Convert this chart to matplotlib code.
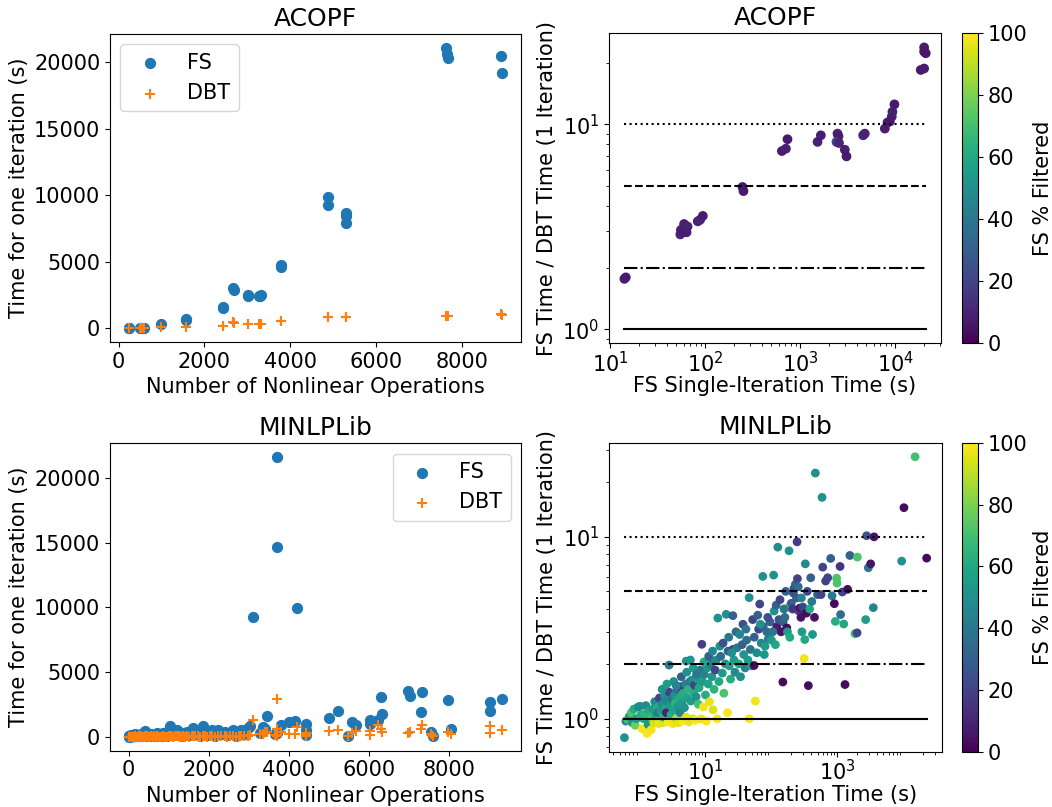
import matplotlib
matplotlib.use("Agg")
import matplotlib.pyplot as plt

# ACOPF: nonlinear operation counts and per-iteration times (s)
acopf_ops = [233, 240, 488, 520, 565, 600, 993, 1558, 1570, 2426, 2440, 2674, 2680, 3008, 3020,
             3263, 3290, 3310, 3783, 3790, 4876, 4880, 5302, 5305, 5310, 7644, 7650, 7690, 8923, 8950]
acopf_fs_iter = [10, 15, 20, 25, 20, 40, 280, 700, 620, 1580, 1480, 2990, 2900, 2490, 2440,
                 2440, 2380, 2490, 4750, 4580, 9900, 9250, 8700, 8470, 7900, 21090, 20640, 20340, 20460, 19210]
acopf_dbt_iter = [8, 10, 15, 18, 15, 20, 80, 80, 100, 175, 170, 430, 420, 280, 280,
                  280, 290, 280, 530, 510, 830, 800, 850, 840, 830, 930, 900, 880, 1080, 1020]

# ACOPF: FS single-iteration time vs speed ratio, coloured by % filtered
acopf_time = [14.2, 14.7, 55, 55.8, 60.3, 65.6, 64, 58, 84, 89, 95, 248, 254, 644, 710, 738, 1528, 1656,
              2477, 2540, 2416, 2570, 2958, 3080, 4610, 4800, 7800, 8320, 8790, 9230, 9370, 9840,
              18600, 20200, 20200, 20200, 21000]
acopf_ratio = [1.76, 1.79, 2.9, 3.05, 3.26, 3.17, 2.97, 2.97, 3.36, 3.42, 3.57, 4.94, 4.72, 7.4, 7.6, 8.45, 8.2, 8.83,
               9.0, 8.73, 8.2, 8.1, 7.51, 6.97, 8.83, 9.0, 9.52, 10.2, 10.3, 10.9, 11.5, 12.5,
               18.4, 18.7, 23.7, 22.6, 22.2]
acopf_pct = [8, 8, 10, 9, 8, 10, 9, 8, 9, 10, 8, 6, 7, 8, 9, 7, 9, 8,
             9, 8, 20, 10, 8, 7, 12, 10, 8, 7, 6, 8, 9, 7,
             7, 8, 8, 7, 6]

# MINLPLib: nonlinear operation counts and per-iteration times (s)
minlp_ops = [5, 10, 15, 22, 30, 38, 45, 55, 65, 75, 85, 95, 110, 125, 140, 155, 170, 190, 210, 230,
             250, 270, 290, 315, 340, 365, 390, 410, 440, 470, 500, 530, 560, 600, 640, 680, 720, 760, 800, 850,
             900, 950, 1000, 1031, 1060, 1100, 1150, 1197, 1250, 1300, 1350, 1400, 1460, 1520, 1580, 1610, 1660,
             1720, 1780, 1858, 1900, 1960, 2020, 2080, 2150, 2231, 2300, 2396, 2450, 2520, 2611, 2680, 2750,
             2811, 2880, 2976,
             3019, 3101, 3267, 3350, 3391, 3441, 3650, 3697, 3697, 3697, 3814, 4012, 4161, 4194, 4427, 4427,
             4427, 4989, 5222, 5462, 5562, 5670, 6018, 6018, 6216, 6298, 6331, 6977, 7019, 7292, 7309, 7533,
             7598, 7971, 8030, 9024, 9024, 9322]
minlp_fs_iter = [20, 40, 10, 60, 30, 80, 15, 50, 120, 25, 70, 40, 150, 30, 90, 60, 200, 40, 110, 70,
                 160, 30, 90, 240, 50, 130, 80, 410, 60, 180, 100, 40, 220, 90, 150, 60, 260, 120, 50, 300,
                 150, 90, 500, 796, 250, 120, 350, 540, 200, 80, 280, 150, 400, 120, 250, 670, 180,
                 450, 90, 796, 300, 150, 220, 500, 80, 540, 200, 400, 120, 300, 540, 90, 350,
                 540, 200, 670,
                 850, 9274, 300, 750, 595, 1569, 200, 21615, 14706, 300, 873, 1105, 1236, 9992, 1005, 541,
                 155, 1414, 1955, 77, 1136, 927, 1260, 981, 1260, 3037, 1777, 3555, 3115, 1932, 3455, 330,
                 77, 2805, 595, 2650, 1986, 2914]
minlp_dbt_iter = [5, 8, 3, 10, 6, 12, 4, 9, 15, 5, 11, 7, 18, 6, 14, 9, 22, 7, 16, 10,
                  20, 6, 13, 25, 8, 17, 11, 30, 9, 21, 14, 7, 26, 12, 19, 8, 28, 15, 7, 32,
                  18, 12, 40, 45, 25, 15, 38, 42, 22, 10, 30, 18, 40, 14, 28, 50, 20,
                  45, 12, 60, 35, 18, 25, 55, 10, 60, 25, 45, 15, 35, 60, 12, 40,
                  60, 25, 70,
                  150, 1314, 200, 200, 400, 350, 150, 2883, 595, 77, 350, 250, 250, 750, 150, 60,
                  300, 450, 500, 60, 300, 450, 450, 130, 900, 600, 400, 300, 400, 600, 900, 250,
                  50, 400, 200, 850, 300, 500]

# MINLPLib: FS single-iteration time vs speed ratio, coloured by % filtered
minlp_time = [0.59, 0.62, 0.66, 0.70, 0.75, 0.78, 0.82, 0.86, 0.90, 0.95,
              1.02, 1.05, 1.10, 1.15, 1.20, 1.25, 1.30, 1.35, 1.40, 1.45,
              1.50, 1.55, 1.60, 1.65, 1.70, 1.75, 1.80, 1.85, 1.90, 1.95,
              2.00, 2.10, 2.20, 2.25, 2.30, 2.40, 2.50, 2.55, 2.60, 2.70, 2.80, 2.81,
              2.90, 3.00, 3.10, 3.20, 3.30, 3.40, 3.50, 3.60, 3.70, 3.80, 3.90,
              4.00, 4.10, 4.20, 4.40, 4.50, 4.60, 4.80, 5.00, 5.10, 5.10, 5.30, 5.50,
              5.60, 5.80, 5.90, 6.00, 6.20, 6.40, 6.60, 6.80, 7.00, 7.20, 7.50, 7.80,
              8.0, 8.3, 8.6, 8.8, 9.0, 9.3, 9.6, 10.0, 10.3, 10.6, 11.0,
              11.5, 12.0, 12.5, 13.0, 13.5, 14.0, 14.5, 15.0, 15.4, 16.0,
              17, 18, 19, 20, 20.6, 21.6, 22, 23, 24, 26, 26, 27, 28,
              30, 32, 34, 36, 38, 40, 42, 44, 46, 46, 48, 50,
              54.6, 55, 57, 60, 64, 66.5, 70, 74, 75, 80, 85, 90, 95, 100, 108,
              110, 115, 120, 125, 130, 140, 149, 150, 160, 171, 175, 183, 185, 190,
              200, 210, 220, 231, 240, 245, 248, 260, 270, 280, 290, 300, 313, 320, 327, 340, 363,
              380, 395, 420, 450, 464, 500, 566, 586, 600, 665, 714, 792, 830, 900, 933, 974, 990,
              1100, 1120, 1190, 1250, 1306, 1430, 1550, 1850, 1990, 2010,
              2690, 2780, 2950, 3200, 3510, 3600, 9440, 10230, 15100, 22600,
              2.2, 2.6, 3.3, 3.6, 4.3, 5.2, 6.5, 7.3, 9.5, 11.2, 12.8, 16.5,
              18.5, 22.5, 25, 29, 33, 37, 41, 52, 62, 68, 78, 88,
              105, 118, 135, 155, 165, 215, 255, 285, 350, 410]
minlp_ratio = [0.787, 0.97, 0.99, 1.03, 1.08, 0.95, 1.13, 0.92, 1.00, 1.16,
               1.17, 1.05, 0.88, 1.00, 1.06, 1.18, 0.83, 0.93, 1.10, 1.03,
               0.87, 1.00, 1.13, 0.95, 1.24, 1.05, 0.96, 1.15, 1.08, 0.94,
               1.30, 1.10, 1.20, 0.95, 1.02, 1.33, 1.15, 1.08, 1.25, 0.96, 1.40, 1.97,
               1.18, 1.05, 1.28, 0.94, 1.12, 1.35, 1.22, 1.00, 1.45, 1.17, 0.95,
               1.30, 1.08, 1.50, 1.22, 0.97, 1.38, 1.15, 1.55, 2.07, 1.02, 1.30, 1.45,
               0.96, 1.60, 2.10, 1.25, 1.63, 1.00, 1.40, 1.53, 0.98, 1.32, 1.65, 1.20,
               1.48, 1.85, 1.00, 2.56, 1.60, 1.16, 1.75, 1.35, 0.97, 1.90, 1.55,
               1.24, 2.00, 1.70, 1.12, 1.45, 1.85, 2.10, 1.00, 3.57, 1.60,
               2.20, 1.78, 1.38, 2.00, 3.74, 1.08, 2.35, 1.95, 1.65, 3.68, 2.40, 2.10, 1.80,
               2.45, 2.00, 1.70, 2.55, 2.25, 1.90, 2.70, 2.10, 1.00, 4.62, 2.40, 1.95,
               1.96, 2.80, 1.25, 2.30, 3.10, 4.26, 2.60, 6.04, 3.20, 2.50, 3.00, 2.75, 3.40, 2.70, 6.14,
               3.90, 2.55, 3.20, 8.74, 3.50, 3.00, 1.59, 3.40, 3.60, 3.15, 3.00, 4.10, 8.35, 2.80,
               4.30, 4.00, 5.20, 5.46, 4.60, 9.35, 5.87, 3.90, 4.05, 3.60, 3.00, 4.10, 2.14, 2.72, 7.08, 3.80, 1.52,
               4.00, 5.94, 2.90, 3.60, 22.3, 4.80, 4.80, 16.4, 6.79, 5.70, 5.94, 7.58, 4.73, 4.28, 3.42, 5.91, 5.55,
               6.85, 3.73, 4.96, 3.31, 1.54, 5.13, 7.87, 2.93, 2.96, 7.71,
               3.50, 10.1, 6.74, 7.08, 4.07, 9.96, 7.33, 14.4, 27.4, 7.61,
               1.45, 1.55, 1.60, 1.52, 1.70, 1.80, 1.90, 1.75, 2.05, 2.20, 2.35, 2.50,
               2.60, 2.80, 2.30, 3.00, 2.90, 3.30, 3.10, 3.50, 3.70, 3.30, 2.25, 3.60,
               3.00, 4.20, 4.50, 4.00, 5.00, 4.90, 5.30, 4.60, 5.00, 4.40]
minlp_pct = [50, 45, 70, 55, 72, 50, 62, 78, 55, 50,
             48, 62, 98, 60, 65, 48, 99, 52, 60, 65,
             98, 70, 55, 95, 45, 58, 92, 62, 40, 97,
             20, 55, 48, 96, 65, 50, 60, 10, 45, 99, 20, 40,
             55, 62, 40, 98, 58, 50, 65, 88, 35, 52, 96,
             60, 45, 20, 55, 99, 62, 50, 45, 50, 95, 58, 65,
             97, 40, 52, 55, 48, 94, 62, 20, 99, 50, 55, 70,
             60, 38, 97, 18, 55, 98, 45, 62, 99, 50, 58,
             96, 40, 52, 94, 65, 20, 48, 99, 50, 60,
             35, 55, 72, 50, 50, 99, 30, 58, 62, 30, 20, 55, 48,
             40, 60, 50, 30, 52, 45, 35, 55, 99, 50, 38, 58,
             3, 30, 98, 48, 20, 20, 45, 50, 30, 55, 35, 40, 30, 55, 50,
             50, 60, 8, 48, 25, 5, 3, 30, 35, 3, 55, 75, 50, 60,
             30, 15, 25, 30, 30, 18, 20, 20, 5, 5, 55, 20, 98, 60, 48, 3, 3,
             60, 30, 52, 5, 50, 30, 20, 50, 20, 18, 20, 30, 40, 3, 62, 72, 72,
             15, 35, 20, 60, 3, 3, 30, 68, 20, 72,
             55, 25, 40, 5, 45, 5, 50, 3, 70, 3,
             50, 55, 50, 45, 30, 50, 55, 40, 60, 30, 45, 50,
             25, 40, 50, 35, 45, 25, 40, 20, 30, 50, 52, 25,
             40, 30, 20, 40, 30, 25, 35, 45, 20, 40]

plt.rcParams['font.size'] = 15

fig = plt.figure(figsize=(10.52, 8.07), dpi=100)
ax1 = fig.add_axes([0.1046, 0.5762, 0.3907, 0.3817])
ax2 = fig.add_axes([0.5792, 0.5746, 0.3151, 0.3841])
cax2 = fig.add_axes([0.9149, 0.5746, 0.0143, 0.3841])
ax3 = fig.add_axes([0.1046, 0.0698, 0.3907, 0.3809])
ax4 = fig.add_axes([0.5792, 0.0685, 0.3160, 0.3829])
cax4 = fig.add_axes([0.9149, 0.0685, 0.0143, 0.3829])


def time_plot(ax, ops, fs, dbt, title, loc):
    ax.scatter(ops, fs, s=50, label='FS')
    ax.scatter(ops, dbt, s=50, marker='+', label='DBT')
    ax.set_title(title, fontsize=18)
    ax.set_xlabel('Number of Nonlinear Operations')
    ax.set_ylabel('Time for one iteration (s)')
    ax.legend(loc=loc)


def ratio_plot(ax, cax, t, ratio, pct, title, size):
    sc = ax.scatter(t, ratio, c=pct, cmap='viridis', vmin=0, vmax=100, s=size)
    lo, hi = min(t), max(t)
    ax.plot([lo, hi], [1, 1], color='k', linestyle='-')
    ax.plot([lo, hi], [2, 2], color='k', linestyle='-.')
    ax.plot([lo, hi], [5, 5], color='k', linestyle='--')
    ax.plot([lo, hi], [10, 10], color='k', linestyle=':')
    ax.set_xscale('log')
    ax.set_yscale('log')
    ax.tick_params(axis='x', pad=2)
    ax.set_title(title, fontsize=18)
    ax.set_xlabel('FS Single-Iteration Time (s)', labelpad=0)
    ax.set_ylabel('FS Time / DBT Time (1 Iteration)')
    cb = fig.colorbar(sc, cax=cax)
    cb.set_label('FS % Filtered')


time_plot(ax1, acopf_ops, acopf_fs_iter, acopf_dbt_iter, 'ACOPF', 'upper left')
time_plot(ax3, minlp_ops, minlp_fs_iter, minlp_dbt_iter, 'MINLPLib', 'upper right')
ratio_plot(ax2, cax2, acopf_time, acopf_ratio, acopf_pct, 'ACOPF', 36)
ratio_plot(ax4, cax4, minlp_time, minlp_ratio, minlp_pct, 'MINLPLib', 28)
ax4.set_xticks([10, 1000])

fig.savefig('out.png', dpi=100)
